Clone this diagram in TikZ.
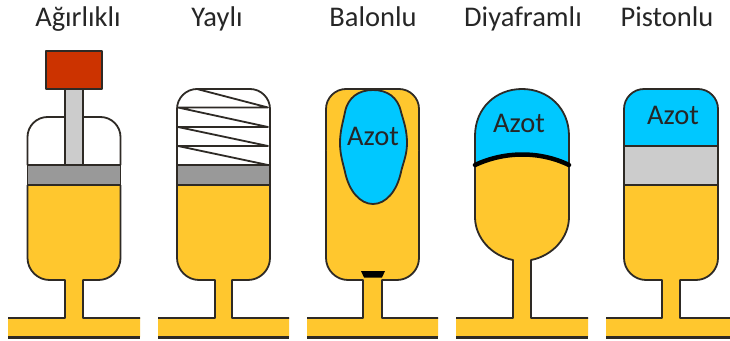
\documentclass[tikz,border=0pt]{standalone}
\usepackage{fontspec}
\setmainfont{Carlito}
\definecolor{oil}{HTML}{FFC72E}
\definecolor{gas}{HTML}{00C8FF}
\definecolor{pistgray}{HTML}{999999}
\definecolor{lightgray2}{HTML}{CCCCCC}
\definecolor{weight}{HTML}{CC3300}
\definecolor{edge}{HTML}{2E2A25}
\tikzset{
  outl/.style={draw=edge,line width=1.8pt,line join=round},
  title/.style={font=\fontsize{28.5}{30}\selectfont,text=black!85,inner sep=0pt,anchor=base},
  gaslabel/.style={font=\fontsize{28.5}{30}\selectfont,text=black!85,inner sep=0pt,anchor=base}
}
% #1 left wall, #2 right wall, #3 y where the oil starts, #4 #5 neck, #6 #7 pipe, #8 body bottom
\newcommand{\oilbase}[8]{
  \fill[oil] (#1,#3) -- (#1,#8-22) .. controls (#1,#8-10) and (#1+10,#8) .. (#1+22,#8) -- (#4,#8) -- (#4,318) -- (#6,318) -- (#6,337) -- (#7,337) -- (#7,318) -- (#5,318) -- (#5,#8) -- (#2-22,#8) .. controls (#2-10,#8) and (#2,#8-10) .. (#2,#8-22) -- (#2,#3) -- cycle;
  \draw[outl] (#6,318) -- (#4,318) -- (#4,#8) -- (#1+22,#8) .. controls (#1+10,#8) and (#1,#8-10) .. (#1,#8-22) -- (#1,#3);
  \draw[outl] (#7,318) -- (#5,318) -- (#5,#8) -- (#2-22,#8) .. controls (#2-10,#8) and (#2,#8-10) .. (#2,#8-22) -- (#2,#3);
  \draw[draw=edge,line width=2.2pt] (#6,337.5) -- (#7,337.5);
}
% rounded top from (#1,#3) over y=#4 to (#2,#3)
\newcommand{\captop}[4]{(#1,#3) -- (#1,#4+20) .. controls (#1,#4+9) and (#1+9,#4) .. (#1+20,#4) -- (#2-20,#4) .. controls (#2-9,#4) and (#2,#4+9) .. (#2,#4+20) -- (#2,#3)}
\begin{document}
\begin{tikzpicture}[x=1pt,y=-1pt]
\useasboundingbox (0,0) rectangle (730,340);
\fill[white] (0,0) rectangle (730,340);
% titles
\node[title] (t1) at (78,27) {Ağırlıklı};
\node[title] (t2) at (217,27) {Yaylı};
\node[title] (t3) at (373,27) {Balonlu};
\node[title] (t4) at (523,27) {Diyaframlı};
\node[title] (t5) at (667,27) {Pistonlu};
% 1 weight loaded
\oilbase{27.5}{120.5}{185}{65}{83}{8}{140}{280}
\draw[outl,fill=pistgray] (27.5,165) rectangle (120.5,185);
\draw[outl] \captop{27.5}{120.5}{165}{117};
\draw[outl,fill=lightgray2] (65,89) rectangle (83,165);
\draw[outl,fill=weight] (46,51) rectangle (102,89);
% 2 spring loaded
\oilbase{177}{270}{185}{215}{232}{158}{289}{280}
\draw[outl,fill=pistgray] (177,165) rectangle (270,185);
\draw[outl] \captop{177}{270}{165}{89};
\draw[outl] (197,89) -- (268,107.5) -- (178,107.5) -- (268,127) -- (178,127) -- (268,146) -- (178,146) -- (268,165);
% 3 bladder
\oilbase{326}{419}{150}{363}{382}{307}{438}{280}
\draw[outl,fill=oil] \captop{326}{419}{150}{89};
\draw[outl,fill=gas] (373,90) .. controls (387,90) and (398,97) .. (401,112)
  .. controls (404,122) and (407,131) .. (407,143)
  .. controls (407,155) and (403,163) .. (401,172)
  .. controls (397,191) and (386,204) .. (373,204)
  .. controls (360,204) and (349,191) .. (345,172)
  .. controls (343,163) and (340,155) .. (340,143)
  .. controls (340,131) and (343,122) .. (345,112)
  .. controls (348,97) and (359,90) .. (373,90) -- cycle;
\fill[black] (361,271) -- (385,271) -- (382,277.5) -- (364,277.5) -- cycle;
\node[gaslabel] (a1) at (373,145) {Azot};
% 4 diaphragm
\fill[oil] (475,165) .. controls (505,151) and (540,151) .. (569,165) -- (569,217)
  .. controls (569,238) and (552,256) .. (531,260) -- (531,318) -- (588,318) -- (588,337) -- (456,337) -- (456,318) -- (513,318) -- (513,260)
  .. controls (492,256) and (475,238) .. (475,217) -- cycle;
\draw[outl] (456,318) -- (513,318) -- (513,260) .. controls (492,256) and (475,238) .. (475,217) -- (475,165);
\draw[outl] (588,318) -- (531,318) -- (531,260) .. controls (552,256) and (569,238) .. (569,217) -- (569,165);
\draw[draw=edge,line width=2.2pt] (456,337.5) -- (588,337.5);
\draw[outl,fill=gas] (475,165) -- (475,136) .. controls (475,108) and (496,89) .. (522,89) .. controls (548,89) and (569,108) .. (569,136) -- (569,165) .. controls (540,151) and (505,151) .. (475,165) -- cycle;
\draw[black,line width=4.5pt,line cap=round] (475,165) .. controls (505,151) and (540,151) .. (569,165);
\node[gaslabel] (a2) at (519,132) {Azot};
% 5 piston
\oilbase{624}{718}{185}{662}{680}{606}{730}{280}
\draw[outl,fill=lightgray2] (624,146) rectangle (718,185);
\draw[outl,fill=gas] \captop{624}{718}{146}{89} -- cycle;
\node[gaslabel] (a3) at (673,124) {Azot};
\end{tikzpicture}
\end{document}
